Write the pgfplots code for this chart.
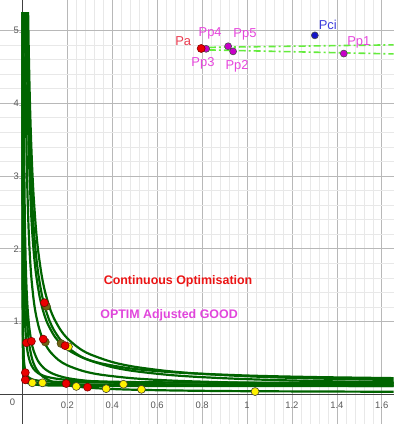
\documentclass[border=0pt]{standalone}
\usepackage{fontspec}
\setmainfont{Liberation Sans}
\usepackage{pgfplots}
\pgfplotsset{compat=1.18}
\definecolor{ggreen}{RGB}{0,100,0}
\definecolor{dashgreen}{RGB}{100,235,60}
\definecolor{ptred}{RGB}{235,0,0}
\definecolor{olivept}{RGB}{110,100,20}
\definecolor{ppmag}{RGB}{200,0,200}
\definecolor{lblmag}{RGB}{230,70,220}
\definecolor{lblred}{RGB}{235,60,80}
\definecolor{pciblue}{RGB}{20,20,200}
\definecolor{lblblue}{RGB}{60,60,220}
\definecolor{txtred}{RGB}{235,20,20}
\definecolor{txtmag}{RGB}{225,70,220}
\begin{document}
\begin{tikzpicture}
\begin{axis}[
  scale only axis, width=394bp, height=424bp,
  xmin=-0.098, xmax=1.653, ymin=-0.40, ymax=5.41,
  axis lines=middle, axis line style={-, black!75, line width=0.8bp},
  xtick={0.2,0.4,0.6,0.8,1.0,1.2,1.4,1.6},
  xticklabels={0.2,0.4,0.6,0.8,1,1.2,1.4,1.6},
  ytick={1,2,3,4,5}, yticklabels={1.0,2.0,3.0,4.0,5.0},
  minor x tick num=4, minor y tick num=4,
  grid=both,
  major grid style={black!28, line width=0.6bp},
  minor grid style={black!9, line width=0.5bp},
  tick style={draw=none},
  ticklabel style={font=\fontsize{9.5}{11}\selectfont, text=black!65},
  xticklabel style={anchor=north, yshift=-1.5bp},
  yticklabel style={anchor=center},
  /pgf/number format/assume math mode=true,
]
% hyperbola-like curves
\addplot[ggreen, line width=2.2bp, smooth] coordinates {(0.02534,5.25) (0.028,4.763) (0.032,4.183) (0.037,3.634) (0.043,3.143) (0.05,2.72) (0.06,2.287) (0.07,1.977) (0.085,1.649) (0.1,1.42) (0.12,1.203) (0.14,1.049) (0.17,0.885) (0.2,0.77) (0.25,0.64) (0.3,0.553) (0.4,0.445) (0.5,0.38) (0.65,0.32) (0.8,0.2825) (1.0,0.25) (1.2,0.228) (1.45,0.2097) (1.66,0.198)};
\addplot[ggreen, line width=2.2bp, smooth] coordinates {(0.02136,5.25) (0.025,4.5) (0.03,3.767) (0.035,3.243) (0.04,2.85) (0.05,2.3) (0.06,1.933) (0.07,1.671) (0.085,1.394) (0.1,1.2) (0.12,1.017) (0.14,0.886) (0.17,0.747) (0.2,0.65) (0.25,0.54) (0.3,0.467) (0.4,0.375) (0.5,0.32) (0.65,0.269) (0.8,0.2375) (1.0,0.21) (1.2,0.192) (1.45,0.176) (1.66,0.166)};
\addplot[ggreen, line width=2.2bp, smooth] coordinates {(0.01772,5.25) (0.02,4.67) (0.025,3.77) (0.03,3.17) (0.04,2.42) (0.05,1.97) (0.06,1.67) (0.075,1.37) (0.09,1.17) (0.11,0.988) (0.14,0.813) (0.17,0.699) (0.21,0.599) (0.27,0.503) (0.35,0.427) (0.5,0.35) (0.7,0.299) (1.0,0.26) (1.3,0.239) (1.66,0.224)};
\addplot[ggreen, line width=2.2bp, smooth] coordinates {(0.01165,5.25) (0.013,4.715) (0.015,4.1) (0.018,3.433) (0.022,2.827) (0.027,2.322) (0.033,1.918) (0.04,1.6) (0.05,1.3) (0.06,1.1) (0.075,0.9) (0.093,0.745) (0.12,0.6) (0.16,0.475) (0.2,0.4) (0.27,0.322) (0.35,0.271) (0.5,0.22) (0.7,0.186) (1.0,0.16) (1.3,0.146) (1.66,0.136)};
\addplot[ggreen, line width=2.2bp, smooth] coordinates {(0.00485,5.25) (0.006,4.267) (0.0075,3.433) (0.009,2.878) (0.011,2.373) (0.014,1.886) (0.018,1.489) (0.023,1.187) (0.03,0.933) (0.04,0.725) (0.05,0.6) (0.07,0.457) (0.1,0.35) (0.14,0.279) (0.2,0.225) (0.3,0.183) (0.45,0.156) (0.65,0.138) (0.9,0.128) (1.2,0.121) (1.66,0.115)};
\addplot[ggreen, line width=2.2bp, smooth] coordinates {(0.00196,5.25) (0.0025,4.15) (0.003,3.483) (0.004,2.65) (0.005,2.15) (0.0065,1.688) (0.008,1.4) (0.01,1.15) (0.013,0.919) (0.018,0.706) (0.025,0.55) (0.035,0.436) (0.05,0.35) (0.07,0.293) (0.1,0.25) (0.15,0.217) (0.22,0.195) (0.35,0.179) (0.5,0.17) (0.8,0.1625) (1.2,0.158) (1.66,0.156)};
\addplot[ggreen, line width=2.2bp] coordinates {(0.000393,5.25) (0.0005,4.16) (0.0007,3.017) (0.001,2.16) (0.0015,1.493) (0.002,1.16) (0.003,0.827) (0.005,0.56) (0.008,0.41) (0.013,0.314) (0.02,0.26) (0.03,0.227) (0.05,0.2) (0.08,0.185) (0.13,0.175) (0.2,0.17) (0.35,0.166) (0.6,0.163) (1.0,0.162) (1.66,0.161)};
\addplot[ggreen, line width=2.2bp] coordinates {(0.00039,5.25) (0.0005,4.13) (0.0007,2.987) (0.001,2.13) (0.0015,1.463) (0.002,1.13) (0.003,0.797) (0.005,0.53) (0.008,0.38) (0.013,0.284) (0.02,0.23) (0.03,0.197) (0.05,0.17) (0.08,0.155) (0.13,0.145) (0.2,0.14) (0.35,0.136) (0.6,0.133) (1.0,0.132) (1.66,0.131)};
\addplot[ggreen, line width=2.2bp, smooth] coordinates {(0.00383,5.25) (0.005,4.025) (0.007,2.882) (0.01,2.025) (0.014,1.454) (0.02,1.025) (0.03,0.692) (0.045,0.469) (0.065,0.333) (0.09,0.247) (0.13,0.179) (0.18,0.136) (0.24,0.108) (0.32,0.0875) (0.45,0.069) (0.65,0.056) (0.9,0.047) (1.2,0.042) (1.66,0.037)};
\addplot[ggreen, line width=2.2bp] coordinates {(0.000195,5.25) (0.0003,3.448) (0.0005,2.115) (0.001,1.115) (0.002,0.615) (0.004,0.365) (0.007,0.258) (0.013,0.192) (0.025,0.155) (0.05,0.135) (0.1,0.125) (0.2,0.12) (0.4,0.1175) (0.8,0.116) (1.66,0.1156)};
% dash-dot lines
\addplot[dashgreen, line width=1.6bp, dash pattern=on 7bp off 3bp on 2bp off 3bp] coordinates {(0.83,4.765) (1.653,4.80)};
\addplot[dashgreen, line width=1.6bp, dash pattern=on 7bp off 3bp on 2bp off 3bp] coordinates {(0.83,4.73) (1.653,4.675)};
% yellow points
\addplot[only marks, mark=*, mark size=4bp, mark options={fill=yellow, draw=black!70!olive, line width=0.6bp}] coordinates {(0.205,0.655) (0.044,0.16) (0.089,0.16) (0.24,0.11) (0.373,0.08) (0.45,0.14) (0.53,0.07) (1.036,0.04)};
% olive points
\addplot[only marks, mark=*, mark size=4bp, mark options={fill=olivept, draw=olivept!70!black, line width=0.6bp}] coordinates {(0.107,1.21) (0.102,0.72) (0.172,0.70)};
% red points
\addplot[only marks, mark=*, mark size=4bp, mark options={fill=ptred, draw=red!50!black, line width=0.6bp}] coordinates {(0.098,1.26) (0.018,0.71) (0.040,0.73) (0.093,0.76) (0.19,0.67) (0.013,0.30) (0.013,0.20) (0.195,0.15) (0.29,0.10)};
% top points
\addplot[only marks, mark=*, mark size=3.5bp, mark options={fill=ppmag, draw=black!70, line width=0.6bp}] coordinates {(0.818,4.745) (0.916,4.78) (0.938,4.71) (1.431,4.68)};
\addplot[only marks, mark=*, mark size=4bp, mark options={fill=ptred, draw=red!50!black, line width=0.6bp}] coordinates {(0.796,4.75)};
\addplot[only marks, mark=*, mark size=3.5bp, mark options={fill=pciblue, draw=black!70, line width=0.6bp}] coordinates {(1.302,4.93)};
% labels
\node[text=lblred, font=\fontsize{13}{15}\selectfont] at (axis cs:0.716,4.85) {Pa};
\node[text=lblmag, font=\fontsize{13}{15}\selectfont] at (axis cs:0.836,4.96) {Pp4};
\node[text=lblmag, font=\fontsize{13}{15}\selectfont] at (axis cs:0.804,4.55) {Pp3};
\node[text=lblmag, font=\fontsize{13}{15}\selectfont] at (axis cs:0.991,4.95) {Pp5};
\node[text=lblmag, font=\fontsize{13}{15}\selectfont] at (axis cs:0.956,4.51) {Pp2};
\node[text=lblblue, font=\fontsize{13}{15}\selectfont] at (axis cs:1.36,5.07) {Pci};
\node[text=lblmag, font=\fontsize{13}{15}\selectfont] at (axis cs:1.498,4.84) {Pp1};
\node[text=txtred, font=\bfseries\fontsize{12.5}{14}\selectfont] at (axis cs:0.693,1.548) {Continuous Optimisation};
\node[text=txtmag, font=\bfseries\fontsize{12.5}{14}\selectfont] at (axis cs:0.653,1.082) {OPTIM Adjusted GOOD};
\node[text=black!65, font=\fontsize{9.5}{11}\selectfont] at (axis cs:-0.044,-0.11) {0};
\end{axis}
\end{tikzpicture}
\end{document}
